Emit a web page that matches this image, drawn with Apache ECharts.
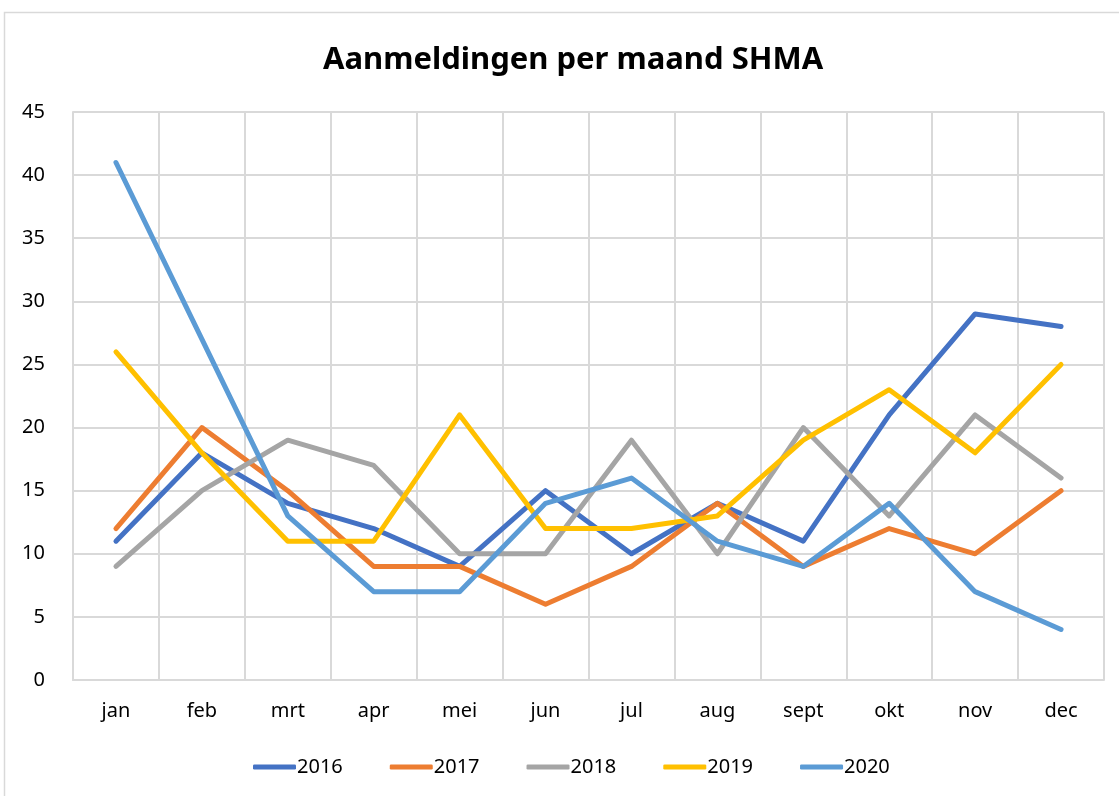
<!DOCTYPE html>
<html>
<head>
<meta charset="utf-8">
<script src="https://cdn.jsdelivr.net/npm/echarts@6/dist/echarts.min.js"></script>
<style>
  html, body { margin: 0; padding: 0; background: #fff; }
  #chart { width: 1119px; height: 796px; }
</style>
</head>
<body>
<div id="chart"></div>
<script>
const months = ['jan', 'feb', 'mrt', 'apr', 'mei', 'jun', 'jul', 'aug', 'sept', 'okt', 'nov', 'dec'];
const years = ['2016', '2017', '2018', '2019', '2020'];
const data2016 = [11, 18, 14, 12, 9, 15, 10, 14, 11, 21, 29, 28];
const data2017 = [12, 20, 15, 9, 9, 6, 9, 14, 9, 12, 10, 15];
const data2018 = [9, 15, 19, 17, 10, 10, 19, 10, 20, 13, 21, 16];
const data2019 = [26, 18, 11, 11, 21, 12, 12, 13, 19, 23, 18, 25];
const data2020 = [41, 27, 13, 7, 7, 14, 16, 11, 9, 14, 7, 4];
const colors = ['#4472c4', '#ed7d31', '#a5a5a5', '#ffc000', '#5b9bd5'];

const allData = [data2016, data2017, data2018, data2019, data2020];
const fontFam = '"Noto Sans", sans-serif';

const chart = echarts.init(document.getElementById('chart'));

const option = {
  animation: false,
  color: colors,
  textStyle: { fontFamily: fontFam },
  title: {
    text: 'Aanmeldingen per maand SHMA',
    left: 318,
    top: 40,
    textStyle: { fontSize: 31, fontWeight: 'bold', color: '#000', fontFamily: fontFam }
  },
  graphic: [{
    type: 'rect',
    shape: { x: 4.5, y: 12.5, width: 1130, height: 800 },
    style: { fill: 'none', stroke: '#d9d9d9', lineWidth: 1.5 },
    silent: true
  }],
  legend: {
    bottom: 14,
    left: 248,
    itemWidth: 43,
    itemHeight: 5,
    itemGap: 47,
    icon: 'roundRect',
    textStyle: { fontSize: 20, color: '#000', fontFamily: fontFam, padding: [0, 0, 0, -4] },
    data: years
  },
  grid: { left: 73, right: 15, top: 112, bottom: 116, containLabel: false },
  xAxis: {
    type: 'category',
    data: months,
    boundaryGap: true,
    axisLine: { lineStyle: { color: '#d9d9d9', width: 2 } },
    axisTick: { show: false },
    axisLabel: { color: '#000', fontSize: 20, margin: 21, fontFamily: fontFam },
    splitLine: { show: true, lineStyle: { color: '#d9d9d9', width: 2 } }
  },
  yAxis: {
    type: 'value',
    min: 0,
    max: 45,
    interval: 5,
    axisLine: { show: true, lineStyle: { color: '#d9d9d9', width: 2 } },
    axisTick: { show: false },
    axisLabel: { color: '#000', fontSize: 20, margin: 28, fontFamily: fontFam },
    splitLine: { lineStyle: { color: '#d9d9d9', width: 2 } }
  },
  series: years.map((y, i) => ({
    name: y,
    type: 'line',
    data: allData[i],
    showSymbol: false,
    symbol: 'none',
    lineStyle: { width: 5, cap: 'round', join: 'round' }
  }))
};

chart.setOption(option);
</script>
</body>
</html>
